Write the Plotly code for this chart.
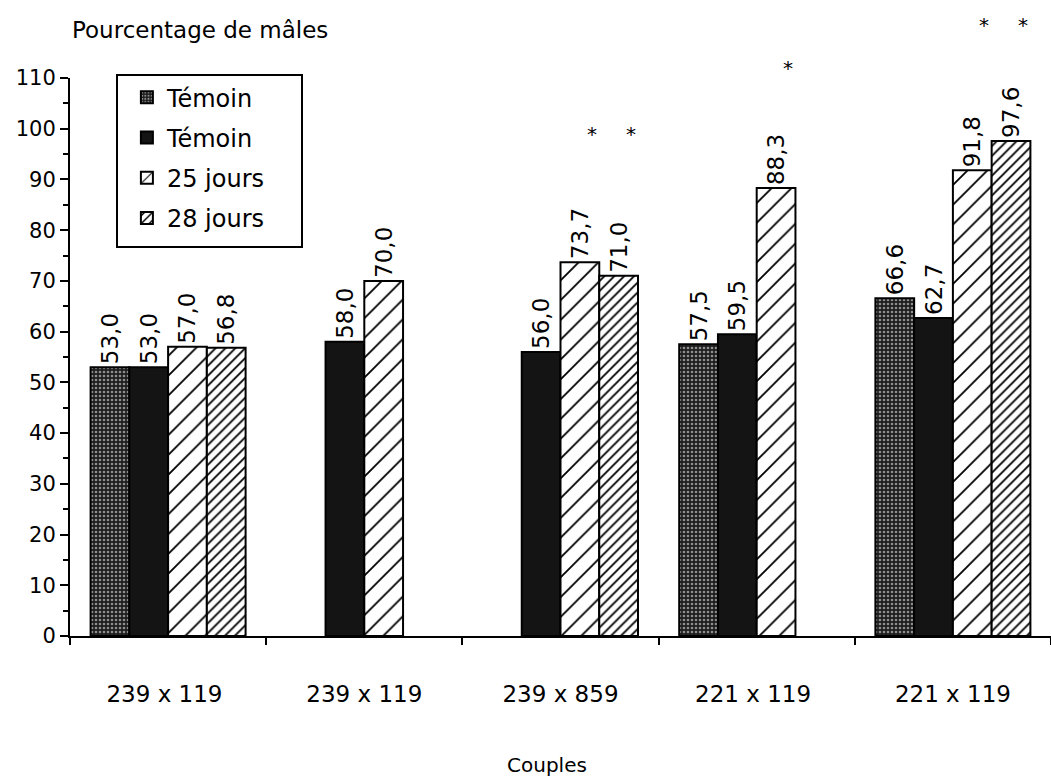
import plotly.graph_objects as go

# Crosses (x axis categories)
couples = ["239 x 119 ", "239 x 119", "239 x 859", "221 x 119 ", "221 x 119"]

# Percentage of males per series (None = not measured)
temoin_gris = [53.0, None, None, 57.5, 66.6]
temoin_noir = [53.0, 58.0, 56.0, 59.5, 62.7]
jours_25 = [57.0, 70.0, 73.7, 88.3, 91.8]
jours_28 = [56.8, None, 71.0, None, 97.6]

# Significance stars: height (in % units) at which each "*" sits
etoiles_25 = [None, None, 99.0, 112.0, 120.5]
etoiles_28 = [None, None, 99.0, None, 120.5]

FONT = "DejaVu Sans"
BARGAP = 0.21
N_SERIES = 4


def fr(v):
    return "" if v is None else f"{v:.1f}".replace(".", ",")


series = [
    ("Témoin", temoin_gris, dict(color="#2a2a2a",
                                 pattern=dict(shape=".", fgcolor="white", bgcolor="#1e1e1e",
                                              size=4, solidity=0.35))),
    ("Témoin", temoin_noir, dict(color="#141414")),
    ("25 jours", jours_25, dict(color="white",
                                pattern=dict(shape="/", fgcolor="black", bgcolor="white",
                                             size=14, solidity=0.13, fgopacity=1))),
    ("28 jours", jours_28, dict(color="white",
                                pattern=dict(shape="/", fgcolor="black", bgcolor="white",
                                             size=7, solidity=0.26, fgopacity=1))),
]

fig = go.Figure()
for i, (name, vals, marker) in enumerate(series):
    marker = dict(marker)
    marker["line"] = dict(color="black", width=2)
    fig.add_trace(go.Bar(
        x=couples, y=vals, name=name, marker=marker,
        offsetgroup=str(i), legendgroup=str(i),
        text=[fr(v) for v in vals], textposition="outside", textangle=-90,
        textfont=dict(family=FONT, size=23, color="black"),
        constraintext="none", cliponaxis=False,
    ))

# Plot geometry used to place the stars over their bar slot
margin = dict(l=70, r=0, t=78, b=140)
plot_w = 1051 - margin["l"] - margin["r"]
slot_px = plot_w / len(couples) * (1 - BARGAP) / N_SERIES

annotations = [
    dict(text="Pourcentage de mâles", xref="paper", yref="paper", x=0.0, y=1.086,
         xanchor="left", yanchor="middle", showarrow=False,
         font=dict(family=FONT, size=23, color="black")),
    dict(text="Couples", xref="paper", yref="paper", x=0.486, y=-0.231,
         xanchor="center", yanchor="middle", showarrow=False,
         font=dict(family=FONT, size=20, color="black")),
]
for k, stars in [(2, etoiles_25), (3, etoiles_28)]:
    for cat, s in zip(couples, stars):
        if s is None:
            continue
        annotations.append(dict(
            text="*", xref="x", yref="y domain", x=cat, y=s / 110.0,
            xshift=(k - (N_SERIES - 1) / 2) * slot_px + 12,
            xanchor="center", yanchor="middle", showarrow=False,
            font=dict(family=FONT, size=20, color="black"),
        ))

fig.update_layout(
    width=1051, height=776,
    margin=margin,
    paper_bgcolor="white", plot_bgcolor="white",
    barmode="group", bargap=BARGAP, bargroupgap=0,
    font=dict(family=FONT, color="black"),
    showlegend=True,
    legend=dict(
        x=0.058, y=1.005, xanchor="left", yanchor="top",
        borderwidth=0, bgcolor="rgba(0,0,0,0)",
        font=dict(family=FONT, size=24, color="black"),
        tracegroupgap=6,
    ),
    xaxis=dict(
        type="category", range=[-0.5, 4.5],
        showline=True, linecolor="black", linewidth=2,
        ticks="outside", tickson="boundaries", ticklen=7, tickwidth=2, tickcolor="black",
        tickfont=dict(family=FONT, size=23), ticklabelstandoff=36,
        showgrid=False, zeroline=False,
    ),
    yaxis=dict(
        range=[0, 110], tickvals=list(range(0, 111, 10)),
        showline=True, linecolor="black", linewidth=2,
        ticks="outside", ticklen=8, tickwidth=2, tickcolor="black",
        tickfont=dict(family=FONT, size=21),
        minor=dict(dtick=5, ticks="outside", ticklen=5, tickwidth=2, tickcolor="black"),
        showgrid=False, zeroline=False,
    ),
    shapes=[
        # legend frame
        dict(type="rect", xref="paper", yref="paper", layer="above",
             x0=(117 - margin["l"]) / plot_w, x1=(302 - margin["l"]) / plot_w,
             y0=(636 - 247) / 558, y1=(636 - 75) / 558,
             line=dict(color="black", width=2)),
    ],
    annotations=annotations,
)

fig.write_html("out.html")
